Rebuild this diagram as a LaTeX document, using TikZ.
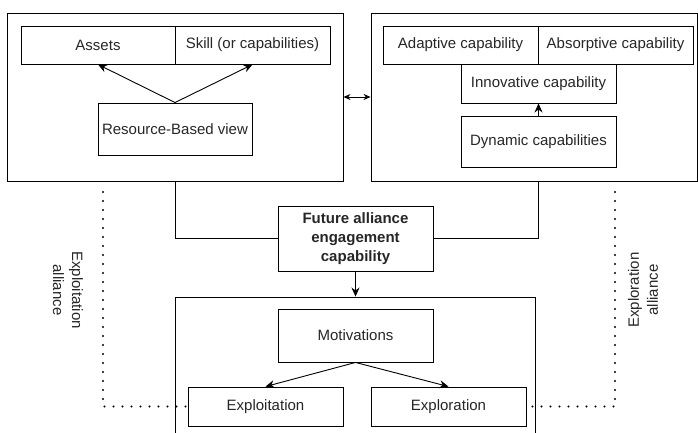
\documentclass[tikz,border=0pt]{standalone}
\usepackage{fontspec}
\setmainfont{Liberation Sans}
\usetikzlibrary{arrows.meta}

\tikzset{boite/.style = {draw, rectangle, inner sep=0pt, align=center,
                         minimum width=#1},
         boite/.default=155pt,
         cadre/.style = {draw, rectangle, inner sep=0pt},
         fleche/.style = {-{Stealth[length=9pt,width=8pt]}},
         pointille/.style = {line width=2.4pt, line cap=round,
                             dash pattern=on 0pt off 9pt, black}
        }

\begin{document}
\begin{tikzpicture}[x=1pt, y=-1pt, line width=0.9pt,
                    every node/.style={font=\fontsize{15}{19}\selectfont, text=black!85}]
  \clip (0,0) rectangle (698,432);

  % left frame: resource-based view
  \node[cadre, minimum width=336pt, minimum height=168pt] (ressources) at (175,97) {};
  \node[boite=154pt, minimum height=38pt] (assets) at (98,45) {Assets};
  \node[boite, minimum height=38pt] (skill) at (252.5,45) {Skill (or capabilities)};
  \node[boite=154pt, minimum height=52pt] (rbv) at (175,129) {Resource-Based view};

  % right frame: dynamic capabilities
  \node[cadre, minimum width=326pt, minimum height=168pt] (dynamique) at (534,97) {};
  \node[boite, minimum height=38pt] (adaptive) at (460.5,45) {Adaptive capability};
  \node[boite, minimum height=38pt] (absorptive) at (615.5,45) {Absorptive capability};
  \node[boite, minimum height=39pt] (innovative) at (538.5,83.5) {Innovative capability};
  \node[boite, minimum height=51pt] (dynamic) at (538.5,141.5) {Dynamic capabilities};

  % centre
  \node[boite, minimum height=65pt, font=\fontsize{15}{19}\selectfont\bfseries]
       (future) at (355.5,238.5) {Future alliance\\engagement\\capability};

  % bottom frame
  \node[cadre, minimum width=360pt, minimum height=200pt] (alliance) at (355,397) {};
  \node[boite, minimum height=53pt] (motivations) at (355.5,335.5) {Motivations};
  \node[boite, minimum height=39pt] (exploitation) at (265.5,406.5) {Exploitation};
  \node[boite, minimum height=39pt] (exploration) at (448.5,406.5) {Exploration};

  \coordinate (gauche) at (103,192);
  \coordinate (droite) at (615,192);

  \node[rotate=-90, align=center] (lexploit) at (68,290) {Exploitation\\alliance};
  \node[rotate=90, align=center] (lexplor) at (643,290) {Exploration\\alliance};

  % connectors
  \draw[fleche] (rbv.north) -- (assets.south);
  \draw[fleche] (rbv.north) -- (skill.south);
  \draw[fleche] (dynamic.north) -- (innovative.south);
  \draw[{Stealth[length=7pt,width=6pt]}-{Stealth[length=7pt,width=6pt]}]
       (ressources.east) -- (dynamique.west);
  \draw (ressources.south) |- (future.west);
  \draw (dynamic.south |- dynamique.south) |- (future.east);
  \draw[fleche] (future.south) -- (future.south |- alliance.north);
  \draw[fleche] (motivations.south) -- (exploitation.north);
  \draw[fleche] (motivations.south) -- (exploration.north);
  \draw[pointille] (gauche) |- (exploitation.west);
  \draw[pointille] (droite) |- (exploration.east);
\end{tikzpicture}
\end{document}
